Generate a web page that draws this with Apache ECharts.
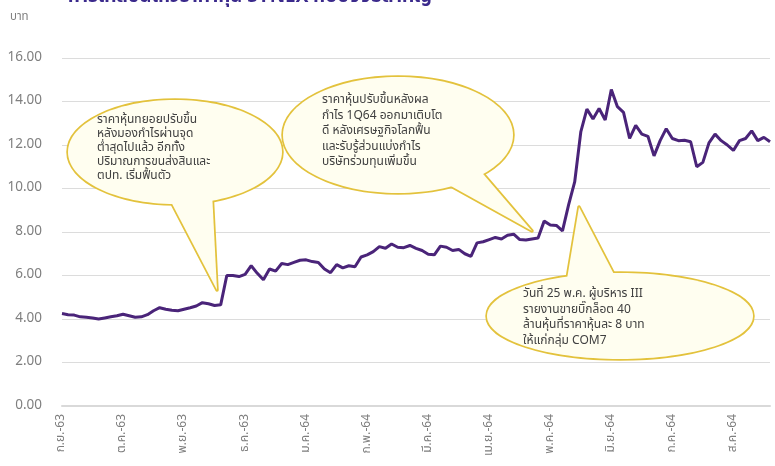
<!DOCTYPE html>
<html>
<head>
<meta charset="utf-8">
<script src="https://cdn.jsdelivr.net/npm/echarts@6/dist/echarts.min.js"></script>
<style>html,body{margin:0;padding:0;background:#fff}#c{width:775px;height:466px}</style>
</head>
<body>
<div id="c"></div>
<script>
// Month tick labels (one label per block of points)
const months = ['ก.ย.-63','ต.ค.-63','พ.ย.-63','ธ.ค.-63','ม.ค.-64','ก.พ.-64','มี.ค.-64','เม.ย.-64','พ.ค.-64','มิ.ย.-64','ก.ค.-64','ส.ค.-64'];
// Share price (baht), sampled ~10 points per month
const sep63 = [4.25,4.20,4.18,4.10,4.08,4.05,4.00,4.05,4.10,4.15];
const oct63 = [4.22,4.15,4.08,4.10,4.20,4.38,4.52,4.45,4.40,4.38];
const nov63 = [4.45,4.52,4.60,4.75,4.70,4.62,4.65,6.00,6.00,5.95];
const dec63 = [6.05,6.45,6.10,5.80,6.30,6.20,6.55,6.50,6.60,6.70];
const jan64 = [6.72,6.64,6.60,6.30,6.13,6.50,6.35,6.45,6.40,6.85];
const feb64 = [6.95,7.10,7.33,7.25,7.45,7.30,7.28,7.38,7.25,7.15];
const mar64 = [6.98,6.95,7.35,7.30,7.15,7.20,7.00,6.88,7.50,7.55];
const apr64 = [7.65,7.75,7.68,7.85,7.90,7.65,7.63,7.68,7.72,8.50];
const may64 = [8.32,8.30,8.05,9.25,10.30,12.60,13.65,13.20,13.68,13.15];
const jun64 = [14.55,13.76,13.50,12.30,12.90,12.50,12.40,11.50,12.20,12.75];
const jul64 = [12.30,12.20,12.22,12.15,11.00,11.20,12.10,12.50,12.20,12.00];
const aug64 = [11.75,12.20,12.30,12.65,12.20,12.35,12.15];
const yTicks = {min: 0, max: 16, interval: 2};

const blocks = [sep63,oct63,nov63,dec63,jan64,feb64,mar64,apr64,may64,jun64,jul64,aug64];
const categories = [];
const prices = [];
blocks.forEach((b, m) => b.forEach((v, k) => { categories.push(months[m] + '|' + k); prices.push(v); }));

const FONT = '"Noto Sans Thai","Noto Sans","DejaVu Sans",sans-serif';
const BORDER = '#e3c23c';
const FILL = '#fffef0';

function bubble(cx, cy, rx, ry, tail, lines, tx, ty, lh) {
  const els = [];
  els.push({type:'polygon', z:100, shape:{points:tail}, style:{fill:FILL, stroke:BORDER, lineWidth:3.5, lineJoin:'round'}});
  els.push({type:'ellipse', z:100, shape:{cx, cy, rx, ry}, style:{fill:FILL, stroke:BORDER, lineWidth:3.5}});
  els.push({type:'polygon', z:101, shape:{points:tail}, style:{fill:FILL, stroke:null}});
  els.push({type:'ellipse', z:101, shape:{cx, cy, rx, ry}, style:{fill:FILL, stroke:null}});
  els.push({type:'text', z:102, left:tx, top:ty, style:{text:lines.join('\n'), font:'12px ' + FONT, fill:'#404040', lineHeight:lh}});
  return els;
}

const chart = echarts.init(document.getElementById('c'));
chart.setOption({
  animation: false,
  grid: {left: 62, right: 5, top: 58, bottom: 60},
  xAxis: {
    type: 'category', data: categories, boundaryGap: false,
    axisLine: {lineStyle: {color: '#d9d9d9', width: 2}},
    axisTick: {show: false},
    axisLabel: {interval: 9, rotate: 90, color: '#7f7f7f', fontSize: 12, fontFamily: FONT, margin: 8,
      formatter: v => v.split('|')[0]}
  },
  yAxis: {
    type: 'value', min: yTicks.min, max: yTicks.max, interval: yTicks.interval,
    axisLabel: {color: '#7f7f7f', fontSize: 13.5, fontFamily: FONT, margin: 20, formatter: v => v.toFixed(2)},
    splitLine: {lineStyle: {color: '#dcdcdc', width: 1}},
    axisLine: {show: false}, axisTick: {show: false}
  },
  series: [{
    type: 'line', data: prices, symbol: 'none',
    lineStyle: {color: '#4a2479', width: 3}
  }],
  graphic: [
    {type:'text', left: 10, top: 12, style:{text:'บาท', font:'11.5px ' + FONT, fill:'#7f7f7f'}},
    {type:'text', left: 68, top: -11, style:{text:'การเคลื่อนไหวราคาหุ้น SYNEX กับปัจจัยสำคัญ', font:'bold 19px ' + FONT, fill:'#3b2a8c'}},
    ...bubble(175, 152, 107, 52, [[168,196],[212,192],[217,290]],
      ['ราคาหุ้นทยอยปรับขึ้น','หลังมองกำไรผ่านจุด','ต่ำสุดไปแล้ว อีกทั้ง','ปริมาณการขนส่งสินและ','ตปท. เริ่มฟื้นตัว'], 97, 114, 14),
    ...bubble(398, 135, 115, 58, [[440,180],[478,168],[532,231]],
      ['ราคาหุ้นปรับขึ้นหลังผล','กำไร 1Q64 ออกมาเติบโต','ดี หลังเศรษฐกิจโลกฟื้น','และรับรู้ส่วนแบ่งกำไร','บริษัทร่วมทุนเพิ่มขึ้น'], 322, 93, 15.5),
    ...bubble(620, 316, 133, 43, [[566,285],[618,282],[579,207]],
      ['วันที่ 25 พ.ค. ผู้บริหาร III','รายงานขายบิ๊กล็อต 40','ล้านหุ้นที่ราคาหุ้นละ 8 บาท','ให้แก่กลุ่ม COM7'], 523, 287, 15.5)
  ]
});
</script>
</body>
</html>
